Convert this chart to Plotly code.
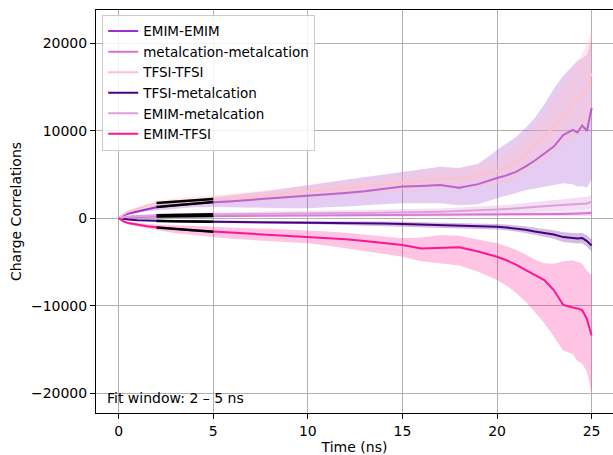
import numpy as np
import plotly.graph_objects as go

# ---------------- data ----------------
t = [0, 0.25, 0.5, 1, 1.5, 2, 3, 4, 5, 6, 7, 8, 9, 10, 11, 12, 13, 14, 15, 16, 17, 18, 19, 20,
     20.5, 21, 21.5, 22, 22.5, 23, 23.5, 24, 24.25, 24.5, 24.75, 25]

emim_emim = [0, 350, 550, 800, 1050, 1250, 1500, 1700, 1830, 1950, 2100, 2250, 2400, 2590, 2750, 2900,
             3100, 3350, 3620, 3700, 3800, 3500, 3900, 4600, 4900, 5300, 5900, 6600, 7400, 8200, 9500,
             10100, 9800, 10600, 10000, 12600]
emim_emim_hi = [0, 450, 700, 1000, 1300, 1550, 1900, 2150, 2350, 2600, 2850, 3150, 3450, 3800, 4100, 4400,
                4700, 5000, 5330, 5600, 5900, 5750, 6200, 7800, 8500, 9300, 10300, 11500, 13000, 14800,
                16300, 17500, 18000, 18300, 18700, 20500]
emim_emim_lo = [0, 250, 400, 600, 800, 950, 1100, 1250, 1300, 1300, 1250, 1200, 1150, 1140, 1250, 1350,
                1450, 1600, 1710, 1750, 1720, 1500, 1600, 2290, 2600, 2900, 3200, 3450, 3630, 3800, 4000,
                3900, 3600, 3700, 3500, 4400]

metal_metal = [0, 60, 100, 150, 180, 200, 220, 240, 250, 260, 270, 280, 290, 300, 305, 310, 315, 320, 330,
               340, 355, 370, 385, 400, 410, 420, 435, 450, 465, 480, 500, 520, 530, 545, 560, 600]
metal_metal_hi = [0, 100, 160, 220, 260, 290, 320, 340, 360, 370, 385, 400, 410, 420, 430, 440, 450, 460,
                  470, 490, 510, 530, 550, 580, 600, 620, 640, 670, 700, 730, 760, 790, 810, 830, 860, 950]
metal_metal_lo = [0, 20, 40, 80, 100, 110, 120, 140, 140, 150, 155, 160, 170, 180, 180, 180, 180, 180, 190,
                  190, 200, 210, 220, 220, 220, 220, 230, 230, 230, 230, 240, 250, 250, 260, 260, 250]

tfsi_tfsi = [0, 450, 750, 1100, 1450, 1700, 1950, 2100, 2170, 2300, 2450, 2650, 2850, 3040, 3200, 3400,
             3600, 3850, 4070, 4250, 4500, 4600, 4900, 5340, 5800, 6500, 7400, 8400, 9350, 10500, 11800,
             13100, 13500, 14200, 14800, 16600]
tfsi_tfsi_hi = [0, 550, 900, 1300, 1700, 2000, 2300, 2500, 2600, 2800, 3000, 3250, 3500, 3750, 3950, 4200,
                4450, 4750, 5050, 5300, 5600, 5800, 6200, 6900, 7500, 8400, 9500, 10800, 12100, 13600,
                15300, 17000, 17800, 18800, 19800, 21500]
tfsi_tfsi_lo = [0, 350, 600, 900, 1200, 1400, 1600, 1700, 1750, 1800, 1900, 2050, 2200, 2350, 2450, 2600,
                2750, 2950, 3100, 3200, 3400, 3400, 3600, 3800, 4100, 4600, 5300, 6000, 6600, 7400, 8300,
                9200, 9200, 9600, 9800, 11700]

tfsi_metal = [0, -100, -150, -220, -270, -300, -340, -370, -390, -410, -430, -440, -450, -460, -490, -520,
              -560, -600, -650, -700, -800, -870, -920, -960, -1050, -1150, -1300, -1500, -1650, -1850,
              -2150, -2250, -2300, -2250, -2600, -3100]
tfsi_metal_hi = [0, -60, -90, -140, -170, -190, -210, -230, -240, -250, -260, -260, -260, -260, -280, -300,
                 -330, -360, -400, -440, -520, -580, -620, -650, -720, -800, -920, -1080, -1200, -1360,
                 -1600, -1680, -1720, -1650, -1950, -2400]
tfsi_metal_lo = [0, -140, -210, -300, -370, -410, -470, -510, -540, -570, -600, -620, -640, -660, -700, -740,
                 -790, -840, -900, -960, -1080, -1160, -1220, -1270, -1380, -1500, -1680, -1920, -2100,
                 -2340, -2700, -2820, -2880, -2850, -3250, -3800]

emim_metal = [0, 130, 200, 260, 310, 350, 400, 430, 460, 480, 500, 520, 535, 550, 570, 590, 610, 630, 650,
              700, 760, 820, 880, 1000, 1060, 1120, 1200, 1300, 1380, 1450, 1500, 1600, 1620, 1650, 1700, 1900]
emim_metal_hi = [0, 200, 300, 380, 450, 500, 570, 610, 650, 680, 710, 740, 770, 800, 830, 860, 900, 940,
                 980, 1050, 1130, 1220, 1310, 1450, 1530, 1620, 1730, 1850, 1950, 2050, 2150, 2300, 2350,
                 2400, 2450, 2650]
emim_metal_lo = [0, 60, 100, 140, 170, 200, 230, 250, 270, 280, 290, 300, 300, 300, 310, 320, 320, 320, 320,
                 350, 390, 420, 450, 550, 590, 620, 670, 750, 810, 850, 850, 900, 890, 900, 950, 1150]

emim_tfsi = [0, -350, -550, -750, -900, -1030, -1250, -1400, -1520, -1650, -1780, -1900, -2000, -2100,
             -2250, -2400, -2600, -2850, -3050, -3450, -3400, -3300, -3800, -4390, -4800, -5300, -5900,
             -6500, -7060, -8200, -9900, -10200, -10300, -10500, -11500, -13400]
emim_tfsi_hi = [0, -250, -400, -550, -650, -700, -800, -900, -950, -1050, -1150, -1200, -1280, -1340,
                -1500, -1650, -1850, -2050, -2290, -2200, -1900, -2000, -2400, -2860, -3200, -3600, -4100,
                -4700, -5150, -5200, -4900, -4800, -5000, -5200, -6000, -6500]
emim_tfsi_lo = [0, -450, -700, -950, -1150, -1350, -1700, -1950, -2150, -2350, -2500, -2650, -2750, -2860,
                -3100, -3400, -3700, -4050, -4390, -4900, -5150, -5400, -6100, -7060, -7700, -8500, -9500,
                -10700, -12000, -13500, -15100, -15500, -16300, -16600, -17500, -20000]

names = ["EMIM-EMIM", "metalcation-metalcation", "TFSI-TFSI", "TFSI-metalcation", "EMIM-metalcation", "EMIM-TFSI"]
means = [emim_emim, metal_metal, tfsi_tfsi, tfsi_metal, emim_metal, emim_tfsi]
highs = [emim_emim_hi, metal_metal_hi, tfsi_tfsi_hi, tfsi_metal_hi, emim_metal_hi, emim_tfsi_hi]
lows = [emim_emim_lo, metal_metal_lo, tfsi_tfsi_lo, tfsi_metal_lo, emim_metal_lo, emim_tfsi_lo]
colors = ["#9932CC", "#DA70D6", "#FFC0CB", "#4B0082", "#DDA0DD", "#FF1493"]
fills = ["rgba(153,50,204,0.25)", "rgba(218,112,214,0.25)", "rgba(255,192,203,0.35)",
         "rgba(75,0,130,0.25)", "rgba(221,160,221,0.35)", "rgba(255,20,147,0.25)"]

fit_lo, fit_hi = 2, 5
y_tickvals = [-20000, -10000, 0, 10000, 20000]
y_ticktext = ["\u221220000", "\u221210000", "0", "10000", "20000"]
x_tickvals = [0, 5, 10, 15, 20, 25]

# ---------------- figure ----------------
fig = go.Figure()
tt = np.array(t, dtype=float)
for name, m, hi, lo, c, fc in zip(names, means, highs, lows, colors, fills):
    fig.add_trace(go.Scatter(x=list(t) + list(t[::-1]), y=list(hi) + list(lo[::-1]),
                             fill="toself", fillcolor=fc, line=dict(width=0),
                             mode="lines", showlegend=False, hoverinfo="skip"))
    fig.add_trace(go.Scatter(x=t, y=m, mode="lines", name=name,
                             line=dict(color=c, width=2)))

# linear fits over the fit window
for m in means:
    mm = np.array(m, dtype=float)
    sel = (tt >= fit_lo) & (tt <= fit_hi)
    p = np.polyfit(tt[sel], mm[sel], 1)
    xf = np.linspace(fit_lo, fit_hi, 20)
    fig.add_trace(go.Scatter(x=xf, y=np.polyval(p, xf), mode="lines", showlegend=False,
                             line=dict(color="black", width=2.5), hoverinfo="skip"))

font = dict(family="DejaVu Sans", size=14, color="black")
fig.update_layout(
    width=613, height=455,
    margin=dict(l=96, r=0, t=10, b=42),
    plot_bgcolor="white", paper_bgcolor="white",
    font=font,
    showlegend=True,
    legend=dict(x=0.012, y=0.988, xanchor="left", yanchor="top",
                bgcolor="rgba(255,255,255,0.85)", bordercolor="#cccccc", borderwidth=1,
                font=dict(family="DejaVu Sans", size=13.5, color="black")),
    xaxis=dict(range=[-1.2, 26.13], tickvals=x_tickvals, showgrid=True, gridcolor="#b0b0b0",
               gridwidth=1, zeroline=False, showline=True, linecolor="black", linewidth=1,
               mirror=True, ticks="outside", ticklen=5, tickcolor="black",
               title=dict(text="Time (ns)", font=font, standoff=6)),
    yaxis=dict(range=[-22250, 23800], tickvals=y_tickvals, ticktext=y_ticktext, showgrid=True,
               gridcolor="#b0b0b0", gridwidth=1, zeroline=False, showline=True, linecolor="black",
               linewidth=1, ticks="outside", ticklen=5, tickcolor="black",
               title=dict(text="Charge Correlations", font=font, standoff=6)),
)
fig.add_annotation(text="Fit window: 2 \u2013 5 ns", xref="paper", yref="paper", x=0.018, y=0.012,
                   xanchor="left", yanchor="bottom", showarrow=False, font=font)

fig.write_html("out.html")
